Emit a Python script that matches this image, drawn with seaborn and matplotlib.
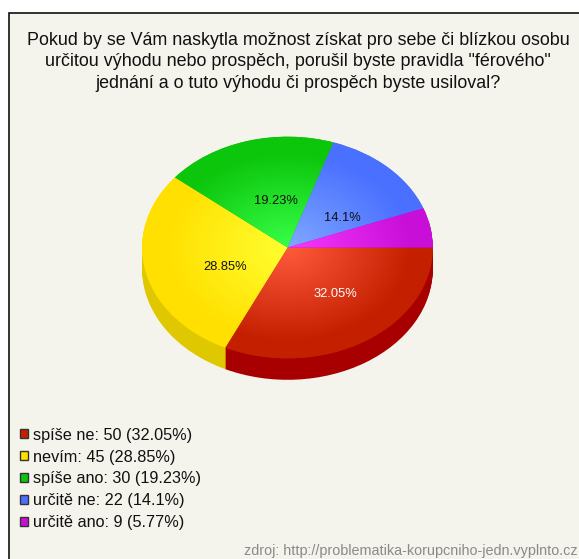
import numpy as np
import matplotlib
matplotlib.use('Agg')
import matplotlib.pyplot as plt
from matplotlib.colors import LinearSegmentedColormap
from matplotlib.patches import Rectangle, Patch
import seaborn as sns

# data
answers = ['spíše ne', 'nevím', 'spíše ano', 'určitě ne', 'určitě ano']
counts = [50, 45, 30, 22, 9]
title_lines = ['Pokud by se Vám naskytla možnost získat pro sebe či blízkou osobu',
               'určitou výhodu nebo prospěch, porušil byste pravidla "férového"',
               'jednání a o tuto výhodu či prospěch byste usiloval?']
source = 'zdroj: http://problematika-korupcniho-jedn.vyplnto.cz'

# colours: edge of slice, centre of slice, side of the 3d disc
edge_colors = ['#c42000', '#ffe000', '#0cc60c', '#4a70ff', '#c80fd8']
centre_colors = ['#ff5a3c', '#ffff30', '#38ff48', '#80a8ff', '#f838ff']
side_colors = ['#a80000', '#e0c800', '#0a9a0a', '#3050c0', '#9000a0']

W, H = 579, 559
BG = '#f4f3ec'

sns.set_theme(style='white')
plt.rcParams['font.family'] = ['Liberation Sans', 'DejaVu Sans']

fig = plt.figure(figsize=(W / 100, H / 100), dpi=100, facecolor='white')

# background panel in pixel coordinates
bg = fig.add_axes([0, 0, 1, 1])
bg.set_xlim(0, W)
bg.set_ylim(H, 0)
bg.axis('off')
bg.add_patch(Rectangle((9, 12.5), W + 20, H, facecolor=BG, edgecolor='#101010', lw=1.2))

for line, y in zip(title_lines, [45, 66, 88]):
    bg.text(298, y, line, ha='center', va='baseline', fontsize=12.9, color='#111111')
bg.text(W - 1, 551, source, ha='right', va='center', fontsize=10.4, color='#8a8a8a')

# pie axes, stretched so that the circle becomes an ellipse
cx, cy, rx, ry = 287.5, 247.5, 145.3, 110.8
lim = 1.3
ax = fig.add_axes([(cx - rx * lim) / W, 1 - (cy + ry * lim) / H, 2 * rx * lim / W, 2 * ry * lim / H])
ax.patch.set_alpha(0)

# side of the disc
depth = 21.5 / ry
for off in np.linspace(depth, 0.01, 23):
    ax.pie(counts, colors=side_colors, startangle=0, counterclock=False, center=(0, -off),
           wedgeprops={'linewidth': 0})

def pct_label(p):
    return f'{round(p, 2):g}%' if p > 6 else ''

wedges, _, autotexts = ax.pie(counts, colors=edge_colors, startangle=0, counterclock=False,
                              autopct=pct_label, pctdistance=0.5, wedgeprops={'linewidth': 0})

# radial gradient on every slice
gx, gy = np.meshgrid(np.linspace(-1.05, 1.05, 300), np.linspace(-1.05, 1.05, 300))
dist = np.clip(np.hypot(gx, gy), 0, 1)
for w, c0, c1 in zip(wedges, centre_colors, edge_colors):
    cmap = LinearSegmentedColormap.from_list('g', [c0, c1])
    im = ax.imshow(dist, cmap=cmap, vmin=0, vmax=0.85, extent=(-1.05, 1.05, -1.05, 1.05),
                   origin='lower', aspect='auto', zorder=1.5)
    im.set_clip_path(w)

# small nudges of the percent labels
nudges = [(0.06, 0.0), (0.06, -0.07), (0.06, -0.06), (0.03, -0.09), (0, 0)]
for i, (t, (dx, dy)) in enumerate(zip(autotexts, nudges)):
    x, y = t.get_position()
    t.set_position((x + dx, y + dy))
    t.set_fontsize(9.3)
    t.set_zorder(5)
    t.set_color('white' if i == 0 else '#111111')

ax.set_aspect('auto')
ax.set_xlim(-lim, lim)
ax.set_ylim(-lim, lim)

# legend
total = sum(counts)
handles = [Patch(facecolor=c, edgecolor='#333333', linewidth=1) for c in edge_colors]
labels = [f'{a}: {n} ({round(100 * n / total, 2):g}%)' for a, n in zip(answers, counts)]
fig.legend(handles, labels, loc='upper left', bbox_to_anchor=(5 / W, 1 - 413 / H), frameon=False,
           fontsize=11.7, labelspacing=0.425, handlelength=0.5, handleheight=0.5, handletextpad=0.3,
           labelcolor='#111111')

fig.savefig('out.png', dpi=100, facecolor='white')
